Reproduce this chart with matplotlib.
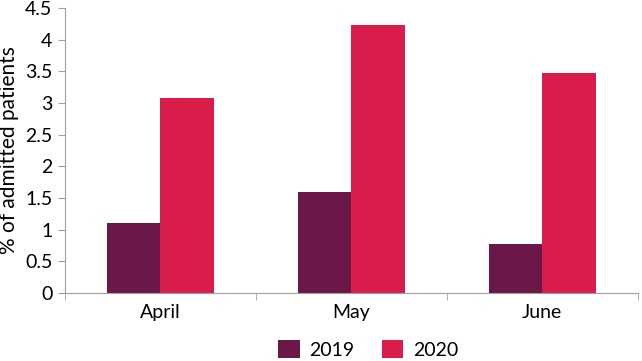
import numpy as np
import matplotlib.pyplot as plt

months = ['April', 'May', 'June']
vals_2019 = [1.11, 1.60, 0.78]
vals_2020 = [3.08, 4.23, 3.47]

plt.rcParams['font.family'] = ['Lato', 'DejaVu Sans']

fig = plt.figure(figsize=(6.42, 3.61), dpi=100)
ax = fig.add_axes([0.101, 0.188, 0.892, 0.79])

x = np.arange(len(months))
w = 0.28
ax.bar(x - w / 2, vals_2019, w, color='#6b1848', label='2019')
ax.bar(x + w / 2, vals_2020, w, color='#da1c4a', label='2020')

ax.set_xlim(-0.5, 2.5)
ax.set_ylim(0, 4.5)
ax.set_yticks(np.arange(0, 4.51, 0.5))
ax.set_yticklabels(['0', '0.5', '1', '1.5', '2', '2.5', '3', '3.5', '4', '4.5'])
ax.set_xticks(x)
ax.set_xticklabels(months)
ax.set_xticks([-0.5, 0.5, 1.5, 2.5], minor=True)
ax.tick_params(axis='x', which='major', length=0, labelsize=14, pad=8)
ax.tick_params(axis='x', which='minor', length=5, color='#a0a0a0')
ax.tick_params(axis='y', length=5, color='#a0a0a0', labelsize=14, pad=4)
ax.set_ylabel('% of admitted patients', fontsize=15, labelpad=4)

for s in ['top', 'right']:
    ax.spines[s].set_visible(False)
for s in ['left', 'bottom']:
    ax.spines[s].set_color('#a0a0a0')

ax.legend(loc='center', bbox_to_anchor=(0.53, -0.196), ncol=2, frameon=False,
          fontsize=14, handlelength=1.1, handleheight=1.1, handletextpad=0.5,
          columnspacing=1.4, borderaxespad=0)

plt.savefig('out.png')
